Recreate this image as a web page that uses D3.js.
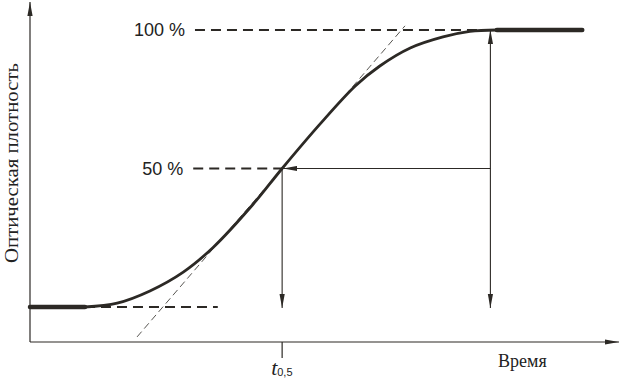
<!DOCTYPE html>
<html>
<head>
<meta charset="utf-8">
<script src="https://cdn.jsdelivr.net/npm/d3@7"></script>
<style>
  body { margin: 0; background: #fff; }
  svg { display: block; }
</style>
</head>
<body>
<svg width="620" height="384"></svg>
<script>
// Data: time in arbitrary units, density in % of the change
const curveTime    = [0, 0.94, 1.49, 2.05, 2.62, 3.13, 3.81, 4.31, 4.96, 5.56, 5.98, 6.50, 7.06, 7.52, 7.98];
const curveDensity = [0, 0,    1.4,  5.8,  12.6, 21.5, 37.0, 50,   66.1, 79.8, 87.0, 93.5, 97.5, 99.5, 100];
const startPlateauTime = [0, 0.94];
const endPlateauTime = [7.98, 9.44];
const tangentTime = [1.83, 6.41];
const tangentDensity = [-10.8, 101.5];
const halfTime = 4.31;
const readTime = 7.87;
const levelLabels = ['100 %', '50 %'];
const levelValues = [100, 50];
const levelStart = [2.82, 2.79];
const baseDashTime = [0.94, 3.21];

const svg = d3.select('svg');
const width = +svg.attr('width');
const height = +svg.attr('height');

const ink = '#2c2925';
const originX = 30;
const originY = 342;

const x = d3.scaleLinear().domain([0, 10]).range([originX, 615]);
const y = d3.scaleLinear().domain([0, 100]).range([307, 30]);

// arrowheads: long narrow triangles
const defs = svg.append('defs');
defs.append('marker')
    .attr('id', 'head')
    .attr('viewBox', '0 -3 14 6')
    .attr('refX', 14)
    .attr('refY', 0)
    .attr('markerWidth', 14)
    .attr('markerHeight', 6)
    .attr('markerUnits', 'userSpaceOnUse')
    .attr('orient', 'auto-start-reverse')
  .append('path')
    .attr('d', 'M0,-2.6L14,0L0,2.6Z')
    .attr('fill', ink);

// axes
svg.append('line')
    .attr('x1', originX).attr('y1', originY)
    .attr('x2', originX).attr('y2', 2)
    .attr('stroke', ink).attr('stroke-width', 1.2)
    .attr('marker-end', 'url(#head)');

svg.append('line')
    .attr('x1', originX).attr('y1', originY)
    .attr('x2', width - 1).attr('y2', originY)
    .attr('stroke', ink).attr('stroke-width', 1.2)
    .attr('marker-end', 'url(#head)');

// t0.5 tick
svg.append('line')
    .attr('x1', x(halfTime)).attr('y1', originY)
    .attr('x2', x(halfTime)).attr('y2', originY + 16)
    .attr('stroke', ink).attr('stroke-width', 1.2);

// dashed level lines
levelValues.forEach((v, i) => {
  svg.append('line')
      .attr('x1', x(levelStart[i])).attr('y1', y(v))
      .attr('x2', i === 0 ? x(curveTime[curveTime.length - 1]) : x(halfTime)).attr('y2', y(v))
      .attr('stroke', ink).attr('stroke-width', 1.8)
      .attr('stroke-dasharray', '10,6');

  svg.append('text')
      .attr('x', x(levelStart[i]) - 10)
      .attr('y', y(v))
      .attr('dy', '0.35em')
      .attr('text-anchor', 'end')
      .attr('font-family', 'Liberation Sans, Arial, sans-serif')
      .attr('font-size', 18)
      .attr('fill', '#222')
      .text(levelLabels[i]);
});

svg.append('line')
    .attr('x1', x(baseDashTime[0])).attr('y1', y(0))
    .attr('x2', x(baseDashTime[1])).attr('y2', y(0))
    .attr('stroke', ink).attr('stroke-width', 1.8)
    .attr('stroke-dasharray', '10,6');

// tangent at the inflection point
svg.append('line')
    .attr('x1', x(tangentTime[0])).attr('y1', y(tangentDensity[0]))
    .attr('x2', x(tangentTime[1])).attr('y2', y(tangentDensity[1]))
    .attr('stroke', ink).attr('stroke-width', 0.8)
    .attr('stroke-dasharray', '7,4');

// arrows
svg.append('line')
    .attr('x1', x(halfTime)).attr('y1', y(50))
    .attr('x2', x(halfTime)).attr('y2', y(0) + 1)
    .attr('stroke', ink).attr('stroke-width', 1.1)
    .attr('marker-end', 'url(#head)');

svg.append('line')
    .attr('x1', x(readTime)).attr('y1', y(100))
    .attr('x2', x(readTime)).attr('y2', y(0) + 1)
    .attr('stroke', ink).attr('stroke-width', 1.1)
    .attr('marker-start', 'url(#head)')
    .attr('marker-end', 'url(#head)');

svg.append('line')
    .attr('x1', x(readTime)).attr('y1', y(50))
    .attr('x2', x(halfTime) + 1).attr('y2', y(50))
    .attr('stroke', ink).attr('stroke-width', 1.1)
    .attr('marker-end', 'url(#head)');

// the curve
const line = d3.line()
    .x(d => x(d[0]))
    .y(d => y(d[1]))
    .curve(d3.curveCatmullRom.alpha(0.5));

svg.append('path')
    .datum(d3.zip(curveTime, curveDensity))
    .attr('d', line)
    .attr('fill', 'none')
    .attr('stroke', ink)
    .attr('stroke-width', 2.8);

svg.append('path')
    .datum(startPlateauTime.map(t => [t, 0]))
    .attr('d', line)
    .attr('stroke', ink)
    .attr('stroke-width', 4.5)
    .attr('stroke-linecap', 'round');

svg.append('path')
    .datum(endPlateauTime.map(t => [t, 100]))
    .attr('d', line)
    .attr('stroke', ink)
    .attr('stroke-width', 4.5)
    .attr('stroke-linecap', 'round');

// axis labels
svg.append('text')
    .attr('transform', `translate(17.5, 163) rotate(-90)`)
    .attr('text-anchor', 'middle')
    .attr('font-family', 'Liberation Serif, Times New Roman, serif')
    .attr('font-size', 19)
    .attr('textLength', 200)
    .attr('lengthAdjust', 'spacingAndGlyphs')
    .attr('fill', '#222')
    .text('Оптическая плотность');

svg.append('text')
    .attr('x', 498)
    .attr('y', 367)
    .attr('font-family', 'Liberation Serif, Times New Roman, serif')
    .attr('font-size', 18)
    .attr('fill', '#222')
    .text('Время');

const tLabel = svg.append('text')
    .attr('x', x(halfTime) - 11)
    .attr('y', 375)
    .attr('fill', '#222');
tLabel.append('tspan')
    .attr('font-family', 'Liberation Serif, Times New Roman, serif')
    .attr('font-style', 'italic')
    .attr('font-size', 22)
    .text('t');
tLabel.append('tspan')
    .attr('font-family', 'Liberation Sans, Arial, sans-serif')
    .attr('font-size', 11)
    .attr('dy', 1)
    .text('0,5');
</script>
</body>
</html>
